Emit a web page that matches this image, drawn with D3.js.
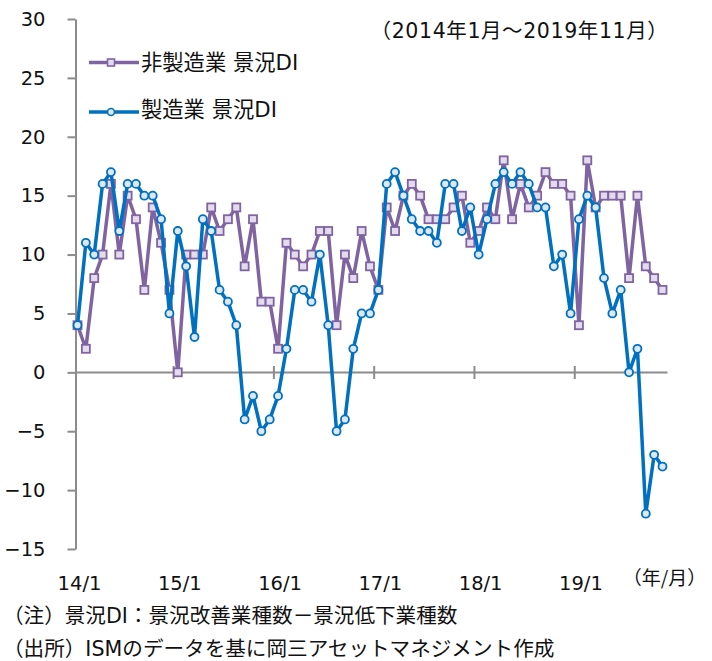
<!DOCTYPE html>
<html><head><meta charset="utf-8">
<script src="https://cdn.jsdelivr.net/npm/d3@7/dist/d3.min.js"></script>
<style>body{margin:0;background:#fff} svg{display:block}</style>
</head><body><svg id="c" width="712" height="661"></svg>
<script>
// ---- data ----
const categories = [
 "14/1","14/2","14/3","14/4","14/5","14/6","14/7","14/8","14/9","14/10","14/11","14/12",
 "15/1","15/2","15/3","15/4","15/5","15/6","15/7","15/8","15/9","15/10","15/11","15/12",
 "16/1","16/2","16/3","16/4","16/5","16/6","16/7","16/8","16/9","16/10","16/11","16/12",
 "17/1","17/2","17/3","17/4","17/5","17/6","17/7","17/8","17/9","17/10","17/11","17/12",
 "18/1","18/2","18/3","18/4","18/5","18/6","18/7","18/8","18/9","18/10","18/11","18/12",
 "19/1","19/2","19/3","19/4","19/5","19/6","19/7","19/8","19/9","19/10","19/11"];
const nonMfg = [4,2,8,10,16,10,15,13,7,14,11,7,
 0,10,10,10,14,12,13,14,9,13,6,6,
 2,11,10,9,10,12,12,4,10,8,12,9,
 7,14,12,15,16,15,13,13,13,14,15,11,
 12,14,13,18,13,16,14,15,17,16,16,15,
 4,18,14,15,15,15,8,15,9,8,7];
const mfg = [4,11,10,16,17,12,16,16,15,15,13,5,
 12,9,3,13,12,7,6,4,-4,-2,-5,-4,
 -2,2,7,7,6,10,4,-5,-4,2,5,5,
 7,16,17,15,13,12,12,11,16,16,12,14,
 10,13,16,17,16,17,16,14,14,9,10,5,
 13,15,14,8,5,7,0,2,-12,-7,-8];
const xTickLabels = ["14/1","15/1","16/1","17/1","18/1","19/1"];
const yTicks = [-15,-10,-5,0,5,10,15,20,25,30];
const seriesNames = ["非製造業 景況DI","製造業 景況DI"];
const periodText = "（2014年1月～2019年11月）";
const unitText = "（年/月）";
const notes = ["（注）景況DI：景況改善業種数－景況低下業種数","（出所）ISMのデータを基に岡三アセットマネジメント作成"];

// ---- drawing ----
const FONT = "'DejaVu Sans','Noto Sans CJK JP',sans-serif";
const JFONT = "'Noto Sans CJK JP','DejaVu Sans',sans-serif";
const purple = "#8064A2", purpleFill = "#E4DCEE";
const blue = "#0070C0", blueFill = "#DCE8F6";
const axisCol = "#8C8C8C";
const svg = d3.select("#c");

const x = d3.scalePoint().domain(categories).range([77.5, 662.5]);
const y = d3.scaleLinear().domain([-15, 30]).range([549, 19]);
const axX = 75.5;

// y axis
const yAxis = d3.axisLeft(y).tickValues(yTicks).tickSize(8).tickSizeOuter(0).tickPadding(22);
const gy = svg.append("g").attr("transform", `translate(${axX},0)`).call(yAxis);
gy.select(".domain").attr("stroke", axisCol).attr("stroke-width", 2);
gy.selectAll(".tick line").attr("stroke", axisCol).attr("stroke-width", 2);
gy.selectAll(".tick text").attr("font-family", FONT).attr("font-size", 19.5).attr("fill", "#111");

// zero line with crossing ticks
const y0 = Math.round(y(0)) + 0.5;
svg.append("line").attr("x1", axX).attr("x2", 667.5).attr("y1", y0).attr("y2", y0)
  .attr("stroke", axisCol).attr("stroke-width", 2);
const step = x.step();
svg.selectAll(".xt").data(xTickLabels.slice(1)).join("line")
  .attr("x1", d => x(d) - step / 2).attr("x2", d => x(d) - step / 2)
  .attr("y1", y0 - 6.5).attr("y2", y0 + 6.5)
  .attr("stroke", axisCol).attr("stroke-width", 2);
svg.selectAll(".xl").data(xTickLabels).join("text")
  .attr("x", d => x(d) + 2).attr("y", 590)
  .attr("text-anchor", "middle").attr("font-family", FONT).attr("font-size", 19.5).attr("fill", "#111")
  .text(d => d);
svg.append("text").attr("x", 664.5).attr("y", 585).attr("text-anchor", "middle")
  .attr("font-family", JFONT).attr("font-size", 19).attr("fill", "#111").text(unitText);

// lines
const line = d3.line().x((d, i) => x(categories[i])).y(d => y(d));
function drawSeries(vals, col, fill, shape) {
  svg.append("path").datum(vals).attr("d", line).attr("fill", "none")
    .attr("stroke", col).attr("stroke-width", 3.5).attr("stroke-linejoin", "round");
  const g = svg.append("g");
  if (shape === "square") {
    g.selectAll("rect").data(vals).join("rect")
      .attr("x", (d, i) => x(categories[i]) - 4).attr("y", d => y(d) - 4)
      .attr("width", 8).attr("height", 8)
      .attr("fill", fill).attr("stroke", col).attr("stroke-width", 1.8);
  } else {
    g.selectAll("circle").data(vals).join("circle")
      .attr("cx", (d, i) => x(categories[i])).attr("cy", d => y(d)).attr("r", 4)
      .attr("fill", fill).attr("stroke", col).attr("stroke-width", 1.8);
  }
}
drawSeries(nonMfg, purple, purpleFill, "square");
drawSeries(mfg, blue, blueFill, "circle");

// legend
const leg = [{name: seriesNames[0], col: purple, fill: purpleFill, shape: "square", ly: 62.5, ty: 62},
             {name: seriesNames[1], col: blue, fill: blueFill, shape: "circle", ly: 112, ty: 109}];
leg.forEach(l => {
  svg.append("line").attr("x1", 89).attr("x2", 139).attr("y1", l.ly).attr("y2", l.ly)
    .attr("stroke", l.col).attr("stroke-width", 3.5);
  if (l.shape === "square") {
    svg.append("rect").attr("x", 111 - 3.5).attr("y", l.ly - 3.5).attr("width", 7).attr("height", 7)
      .attr("fill", l.fill).attr("stroke", l.col).attr("stroke-width", 1.6);
  } else {
    svg.append("circle").attr("cx", 111).attr("cy", l.ly).attr("r", 3.5)
      .attr("fill", l.fill).attr("stroke", l.col).attr("stroke-width", 1.6);
  }
  svg.append("text").attr("x", 141).attr("y", l.ty).attr("dominant-baseline", "central")
    .attr("font-family", FONT).attr("font-size", 21.3).attr("fill", "#111").text(l.name);
});

// period
svg.append("text").attr("x", 519.5).attr("y", 31).attr("dominant-baseline", "central")
  .attr("text-anchor", "middle").attr("font-family", FONT).attr("font-size", 20.5)
  .attr("letter-spacing", 0.6).attr("fill", "#111")
  .text(periodText);

// notes
svg.selectAll(".note").data(notes).join("text")
  .attr("x", 3).attr("y", (d, i) => 616 + i * 33).attr("dominant-baseline", "central")
  .attr("font-family", FONT).attr("font-size", 20.6).attr("fill", "#111").text(d => d);
</script></body></html>
